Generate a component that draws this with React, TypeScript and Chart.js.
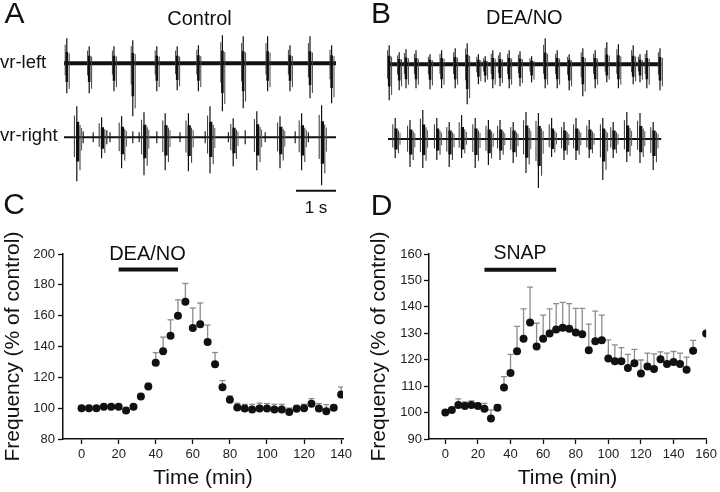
import React, { useEffect, useRef } from "react";
import { Chart, registerables } from "chart.js";
Chart.register(...registerables);

const FONT = '"Liberation Sans", Arial, Helvetica, sans-serif';
Chart.defaults.font.family = FONT;

// ---------- Panel C (DEA/NO) ----------
const timeC = [0,4,8,12,16,20,24,28,32,36,40,44,48,52,56,60,64,68,72,76,80,84,88,92,96,100,104,108,112,116,120,124,128,132,136,140];
const freqC = [100,100,100,101,101,101,98.5,101,107.5,114,129.5,137,147,160,169,152,154.5,143,128.5,113.5,105.5,100.5,99.8,99.2,99.8,99.8,99.2,99.2,97.5,99.6,100,102.8,99.8,98,100.3,108.8];
const semC = [0.8,0.8,0.8,1,1,1,1,1.2,1.5,2.2,6.5,9.1,10.3,10.3,11.9,13,13.7,10.9,7.6,4.4,2.5,2.7,2.7,3.3,3.4,3.2,3.3,3.3,2.6,2.3,2.5,3.4,3.2,4.3,1.7,4.9];
const xTicksC = [0,20,40,60,80,100,120,140];
const drugC = [20, 52];
const drugLevelC = 190;

// ---------- Panel D (SNAP) ----------
const timeD = [0,4,8,12,16,20,24,28,32,36,40,44,48,52,56,60,64,68,72,76,80,84,88,92,96,100,104,108,112,116,120,124,128,132,136,140,144,148,152,160];
const freqD = [100,101,102.9,102.5,102.9,102.5,101.4,97.8,101.8,109.5,115,123.2,127.9,134.1,125,127.9,129.9,131.4,132.1,131.7,130.3,129.6,123.6,127,127.4,120.5,119.4,119.4,116.9,118.7,114.8,117.4,116.5,120.2,118.4,119.1,118.4,116.2,123.4,129.9];
const semD = [0.8,1,2.3,1.5,1.5,1,2.1,3.2,1.2,4.1,7,9.4,11.3,13.4,8.8,9,9.3,9.8,9.6,9.5,9.1,9.8,9.9,11.4,9.5,7,6.2,5.2,5.1,5.2,5.1,5.1,5.7,2.8,4.1,4,4.1,4.8,3.9,0];
const xTicksD = [0,20,40,60,80,100,120,140,160];
const drugD = [24, 68];
const drugLevelD = 154;

// ---------- Panel A traces (Control), time in s, amplitude in arbitrary units ----------
const leftA_t = [0.07,0.63,1.25,1.72,2.32,2.83,3.36,3.96,4.48,5.09,5.65,6.15,6.69];
const leftA_up = [25,17,17,23,17,17,18,28,27,27,18,27,18];
const leftA_dn = [30,30,28,53,28,27,28,48,45,28,28,35,40];
const rightA_t = [0.32,0.94,1.44,2.0,2.53,3.11,3.65,4.23,4.82,5.4,5.94,6.44];
const rightA_up = [31,20,21,25,24,24,31,19,26,21,24,32];
const rightA_dn = [44,21,31,38,33,34,36,29,33,31,33,48];
const smallA_t = [0.48,0.73,1.07,1.15,1.72,1.88,2.32,2.9,3.53,4.11,4.53,5.03,5.78,6.11];
const smallA_amp = [6,5,7,5,6,5,6,5,6,5,7,5,6,5];
const traceEndA = 6.8;
const offsetRightA = -74;
const scaleBarA = [5.8, 6.8];
const scaleBarLevelA = -127.4;

// ---------- Panel B traces (DEA/NO) ----------
const leftB_t = [0.03,0.28,0.45,0.7,1.05,1.34,1.68,1.98,2.26,2.43,2.62,2.8,3.03,3.3,3.59,3.93,4.23,4.53,4.87,5.18,5.47,5.76,6.13,6.3,6.47,6.8];
const leftB_up = [19,12,15,14,10,14,16,21,10,8,14,12,14,13,8,26,14,10,16,14,22,20,19,10,14,16];
const leftB_dn = [36,26,24,24,25,24,24,40,20,18,24,22,24,22,18,24,24,26,32,24,18,24,20,18,24,26];
const rightB_t = [0.18,0.55,0.87,1.22,1.53,1.84,2.18,2.51,2.8,3.13,3.45,3.76,4.09,4.4,4.7,5.03,5.37,5.63,5.97,6.3,6.63];
const rightB_up = [21,19,29,21,17,24,21,19,19,17,27,26,21,17,21,19,21,17,27,26,17];
const rightB_dn = [19,28,29,21,28,19,29,26,21,24,34,49,18,21,21,19,41,19,23,24,31];
const traceEndB = 6.83;
const offsetRightB = -74.7;

// ---------- helpers ----------
type Pt = { x: number; y: number | null };

function segs(ts: number[], lo: number[], hi: number[], base: number, dt = 0, kLo = 1, kHi = 1): Pt[] {
  const out: Pt[] = [];
  ts.forEach((t, i) => {
    out.push({ x: t + dt, y: base - lo[i] * kLo }, { x: t + dt, y: base + hi[i] * kHi }, { x: t + dt, y: null });
  });
  return out;
}

function lineDs(data: Pt[], width: number, color: string) {
  return {
    data,
    borderColor: color,
    backgroundColor: color,
    borderWidth: width,
    pointRadius: 0,
    borderCapStyle: "butt",
    fill: false,
    tension: 0,
    spanGaps: false,
  };
}

function traceConfig(xmin: number, xmax: number, ymax: number, datasets: any[]) {
  return {
    type: "line",
    data: { datasets },
    options: {
      animation: false,
      responsive: false,
      devicePixelRatio: 1,
      events: [],
      layout: { padding: 0 },
      plugins: { legend: { display: false }, tooltip: { enabled: false } },
      scales: {
        x: { type: "linear", display: false, min: xmin, max: xmax },
        y: { type: "linear", display: false, min: ymax - 230, max: ymax },
      },
    },
  };
}

function traceDatasets(
  lt: number[], lup: number[], ldn: number[],
  rt: number[], rup: number[], rdn: number[],
  end: number, rOff: number
) {
  return [
    // vr-left: main spike, dense core, a few side spikes
    lineDs(segs(lt, ldn, lup, 0, 0, 1, 1), 1.2, "#111"),
    lineDs(segs(lt, ldn, lup, 0, 0, 0.62, 0.45), 2.6, "#111"),
    lineDs(segs(lt, ldn, lup, 0, 0.06, 0.85, 0.4), 1, "#444"),
    lineDs(segs(lt, ldn, lup, 0, -0.04, 0.4, 0.75), 1, "#444"),
    // vr-right bursts: envelope of spikes
    lineDs(segs(rt, rdn, rup, rOff, 0, 1, 1), 1.2, "#111"),
    lineDs(segs(rt, rdn, rup, rOff, 0.02, 0.55, 0.5), 3.2, "#111"),
    lineDs(segs(rt, rdn, rup, rOff, -0.06, 0.45, 0.7), 1, "#333"),
    lineDs(segs(rt, rdn, rup, rOff, 0.08, 0.75, 0.4), 1, "#333"),
    lineDs(segs(rt, rdn, rup, rOff, 0.12, 0.3, 0.3), 1, "#555"),
    // baselines
    lineDs([{ x: 0, y: 0 }, { x: end, y: 0 }], 4, "#111"),
    lineDs([{ x: 0, y: rOff }, { x: end, y: rOff }], 2, "#111"),
  ];
}

function scatterConfig(o: {
  times: number[]; freq: number[]; sem: number[];
  xmin: number; xmax: number; xTicks: number[];
  ymin: number; ymax: number; ystep: number;
  yWidth: number; yTitlePad: number; yTickPad: number; rightPad: number;
  drug: number[]; drugLevel: number;
}) {
  const pts = o.times.map((t, i) => ({ x: t, y: o.freq[i] }));
  const stems: Pt[] = [];
  o.times.forEach((t, i) => {
    stems.push({ x: t, y: o.freq[i] }, { x: t, y: o.freq[i] + o.sem[i] }, { x: t, y: null });
  });
  const caps = o.times.map((t, i) => ({ x: t, y: o.freq[i] + o.sem[i] }));
  const gray = "#8c8c8c";
  return {
    type: "line",
    data: {
      datasets: [
        { data: pts, showLine: false, pointRadius: 4, pointBackgroundColor: "#111", pointBorderColor: "#111", pointBorderWidth: 0, order: 0 },
        { ...lineDs(stems, 1.3, gray), order: 1 },
        { data: caps, showLine: false, pointStyle: "line", pointRadius: 3, pointBorderColor: gray, pointBackgroundColor: gray, pointBorderWidth: 1.3, order: 2 },
        { ...lineDs([{ x: o.drug[0], y: o.drugLevel }, { x: o.drug[1], y: o.drugLevel }], 4, "#111"), order: 3 },
      ],
    },
    options: {
      animation: false,
      responsive: false,
      devicePixelRatio: 1,
      events: [],
      layout: { padding: { top: 24, right: o.rightPad, bottom: 0, left: 0 } },
      plugins: { legend: { display: false }, tooltip: { enabled: false } },
      scales: {
        x: {
          type: "linear",
          min: o.xmin,
          max: o.xmax,
          afterBuildTicks: (s: any) => { s.ticks = o.xTicks.map((v) => ({ value: v })); },
          afterFit: (s: any) => { s.height = 53; },
          ticks: { font: { size: 13 }, color: "#222", padding: 3, maxRotation: 0, autoSkip: false },
          grid: { display: true, drawOnChartArea: false, drawTicks: true, tickLength: 5, tickColor: "#111", tickWidth: 1.3 },
          border: { display: true, color: "#111", width: 1.5 },
          title: { display: true, text: "Time (min)", color: "#111", font: { size: 21, lineHeight: 1.2 }, padding: { top: 0, bottom: 1.4 } },
        },
        y: {
          type: "linear",
          min: o.ymin,
          max: o.ymax,
          afterFit: (s: any) => { s.width = o.yWidth; },
          ticks: { stepSize: o.ystep, font: { size: 13 }, color: "#222", padding: o.yTickPad },
          grid: { display: true, drawOnChartArea: false, drawTicks: true, tickLength: 5, tickColor: "#111", tickWidth: 1.3 },
          border: { display: true, color: "#111", width: 1.5 },
          title: { display: true, text: "Frequency (% of control)", color: "#111", font: { size: 21, lineHeight: 1.2 }, padding: { top: o.yTitlePad, bottom: 0 } },
        },
      },
    },
  };
}

function ChartBox({ left, top, width, height, config }: any) {
  const ref = useRef<HTMLCanvasElement>(null);
  useEffect(() => {
    const chart = new Chart(ref.current as HTMLCanvasElement, config);
    return () => chart.destroy();
  }, []);
  return (
    <canvas
      ref={ref}
      width={width}
      height={height}
      style={{ position: "absolute", left, top, width, height }}
    />
  );
}

function Txt({ x, base, size, children, center = true }: any) {
  return (
    <div
      style={{
        position: "absolute",
        left: x,
        top: base - 0.8465 * size,
        fontFamily: FONT,
        fontSize: size,
        lineHeight: `${size}px`,
        color: "#111",
        whiteSpace: "nowrap",
        transform: center ? "translateX(-50%)" : undefined,
      }}
    >
      {children}
    </div>
  );
}

export default function App() {
  const cfgA = traceConfig(-1.6, 7.4, 63.3, [
    ...traceDatasets(leftA_t, leftA_up, leftA_dn, rightA_t, rightA_up, rightA_dn, traceEndA, offsetRightA),
    lineDs(segs(smallA_t, smallA_amp, smallA_amp, offsetRightA), 1.2, "#222"),
    lineDs([{ x: scaleBarA[0], y: scaleBarLevelA }, { x: scaleBarA[1], y: scaleBarLevelA }], 2, "#111"),
  ]);
  const cfgB = traceConfig(-0.7, 8.3, 64.3,
    traceDatasets(leftB_t, leftB_up, leftB_dn, rightB_t, rightB_up, rightB_dn, traceEndB, offsetRightB)
  );
  const cfgC = scatterConfig({
    times: timeC, freq: freqC, sem: semC, xmin: -10, xmax: 141, xTicks: xTicksC,
    ymin: 80, ymax: 200, ystep: 20, yWidth: 63, yTitlePad: 1, yTickPad: 3, rightPad: 17,
    drug: drugC, drugLevel: drugLevelC,
  });
  const cfgD = scatterConfig({
    times: timeD, freq: freqD, sem: semD, xmin: -10, xmax: 160, xTicks: xTicksD,
    ymin: 90, ymax: 160, ystep: 10, yWidth: 69, yTitlePad: 6.4, yTickPad: 2, rightPad: 12,
    drug: drugD, drugLevel: drugLevelD,
  });

  return (
    <div style={{ position: "fixed", left: 0, top: 0, width: 720, height: 492, background: "#fff", overflow: "hidden" }}>
      <ChartBox left={0} top={0} width={360} height={230} config={cfgA} />
      <ChartBox left={360} top={0} width={360} height={230} config={cfgB} />
      <ChartBox left={0} top={230} width={360} height={262} config={cfgC} />
      <ChartBox left={360} top={230} width={360} height={262} config={cfgD} />

      <Txt x={14.5} base={23} size={30}>A</Txt>
      <Txt x={381} base={23} size={30}>B</Txt>
      <Txt x={14} base={214.5} size={30}>C</Txt>
      <Txt x={381.7} base={215} size={30}>D</Txt>

      <Txt x={199.5} base={25} size={20}>Control</Txt>
      <Txt x={524.3} base={24} size={20}>DEA/NO</Txt>
      <Txt x={0} base={68.3} size={18.5} center={false}>vr-left</Txt>
      <Txt x={0} base={141.5} size={18.5} center={false}>vr-right</Txt>
      <Txt x={316} base={213.3} size={17}>1 s</Txt>

      <Txt x={147.5} base={260} size={20}>DEA/NO</Txt>
      <Txt x={520} base={260} size={19.5}>SNAP</Txt>
    </div>
  );
}
